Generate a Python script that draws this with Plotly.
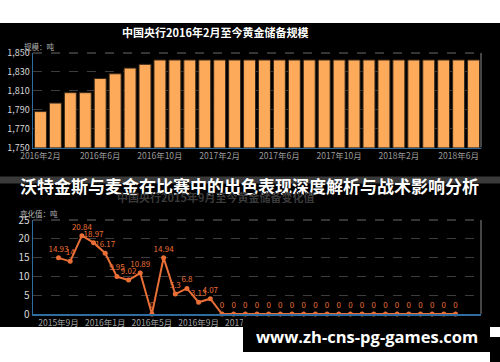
import plotly.graph_objects as go

# ---------------- data ----------------
reserve_months = [
    "2016年2月", "2016年3月", "2016年4月", "2016年5月", "2016年6月", "2016年7月",
    "2016年8月", "2016年9月", "2016年10月", "2016年11月", "2016年12月", "2017年1月",
    "2017年2月", "2017年3月", "2017年4月", "2017年5月", "2017年6月", "2017年7月",
    "2017年8月", "2017年9月", "2017年10月", "2017年11月", "2017年12月", "2018年1月",
    "2018年2月", "2018年3月", "2018年4月", "2018年5月", "2018年6月", "2018年7月",
]
reserve_tonnes = [
    1788, 1797, 1808, 1808, 1823, 1828, 1834, 1838,
    1842.6, 1842.6, 1842.6, 1842.6, 1842.6, 1842.6, 1842.6, 1842.6, 1842.6, 1842.6,
    1842.6, 1842.6, 1842.6, 1842.6, 1842.6, 1842.6, 1842.6, 1842.6, 1842.6, 1842.6,
    1842.6, 1842.6,
]
reserve_ticks = ["2016年2月", "2016年6月", "2016年10月", "2017年2月",
                 "2017年6月", "2017年10月", "2018年2月", "2018年6月"]
reserve_yticks = [1750, 1770, 1790, 1810, 1830, 1850]

change_months = [
    "2015年9月", "2015年10月", "2015年11月", "2015年12月", "2016年1月", "2016年2月",
    "2016年3月", "2016年4月", "2016年5月", "2016年6月", "2016年7月", "2016年8月",
    "2016年9月", "2016年10月", "2016年11月", "2016年12月", "2017年1月", "2017年2月",
    "2017年3月", "2017年4月", "2017年5月", "2017年6月", "2017年7月", "2017年8月",
    "2017年9月", "2017年10月", "2017年11月", "2017年12月", "2018年1月", "2018年2月",
    "2018年3月", "2018年4月", "2018年5月", "2018年6月", "2018年7月",
]
change_tonnes = [
    14.93, 14, 20.84, 18.97, 16.17, 9.95, 9.02, 10.89, 0, 14.94, 5.3, 6.8, 3.13, 4.07,
    0, 0, 0, 0, 0, 0, 0, 0, 0, 0, 0, 0, 0, 0, 0, 0, 0, 0, 0, 0, 0,
]
change_ticks = ["2015年9月", "2016年1月", "2016年5月", "2016年9月", "2017年1月",
                "2017年5月", "2017年9月", "2018年1月", "2018年5月"]
change_yticks = [0, 5, 10, 15, 20, 25]

title_top = "中国央行2016年2月至今黄金储备规模"
title_bottom = "中国央行2015年9月至今黄金储备变化值"
unit_top = "规模：吨"
unit_bottom = "变化值：吨"
headline = "沃特金斯与麦金在比赛中的出色表现深度解析与战术影响分析"
site = "www.zh-cns-pg-games.com"

# ---------------- layout helpers ----------------
W, H = 500, 362
def px(x):
    return x / W
def py(y):
    return 1 - y / H

CJK = "Noto Sans CJK SC"
AXIS_BLUE = "#2f6c9f"
GRID = "#3d3d3d"
ORANGE_LINE = "#ea6f36"
BAR = "#fdab5a"

fig = go.Figure()

fig.add_trace(go.Bar(
    x=reserve_months, y=reserve_tonnes,
    marker=dict(color=BAR, line=dict(color="#3a2a1a", width=1)),
    xaxis="x", yaxis="y", hoverinfo="skip",
))

fig.add_trace(go.Scatter(
    x=change_months, y=change_tonnes,
    mode="lines+markers+text",
    line=dict(color=ORANGE_LINE, width=2),
    marker=dict(color=ORANGE_LINE, size=5),
    text=[f"{v:g}" for v in change_tonnes],
    textposition="top center",
    textfont=dict(family=CJK, size=8, color=ORANGE_LINE),
    xaxis="x2", yaxis="y2", hoverinfo="skip", cliponaxis=False,
))

x_dom = [px(33), px(481)]

fig.update_layout(
    width=W, height=H,
    margin=dict(l=0, r=0, t=0, b=0, autoexpand=False),
    paper_bgcolor="white",
    plot_bgcolor="black",
    showlegend=False,
    bargap=0.2,
    font=dict(family=CJK),
    xaxis=dict(
        domain=x_dom, anchor="y", type="category", automargin=False,
        showgrid=False, showline=True, linecolor=AXIS_BLUE, linewidth=1.5,
        ticks="", tickmode="array", tickvals=reserve_ticks, ticktext=reserve_ticks,
        tickfont=dict(family=CJK, size=8.5, color="#9a9a9a"), tickangle=0,
        fixedrange=True,
    ),
    yaxis=dict(
        domain=[py(147.5), py(53)], anchor="x", automargin=False,
        range=[1750, 1850], tickvals=reserve_yticks, tickformat=",",
        showgrid=True, gridcolor=GRID, griddash="dash", gridwidth=1,
        showline=True, linecolor=AXIS_BLUE, linewidth=1.5, zeroline=False,
        ticks="", tickfont=dict(family=CJK, size=9, color="#d8d8d8"),
        fixedrange=True,
    ),
    xaxis2=dict(
        domain=x_dom, anchor="y2", type="category", automargin=False,
        showgrid=False, showline=True, linecolor=AXIS_BLUE, linewidth=1.5,
        ticks="", tickmode="array", tickvals=change_ticks, ticktext=change_ticks,
        tickfont=dict(family=CJK, size=8.5, color="#a0a0a0"), tickangle=0,
        fixedrange=True,
    ),
    yaxis2=dict(
        domain=[py(314), py(220)], anchor="x2", automargin=False,
        range=[0, 25], tickvals=change_yticks,
        showgrid=True, gridcolor=GRID, griddash="dash", gridwidth=1,
        showline=True, linecolor=AXIS_BLUE, linewidth=1.5, zeroline=False,
        ticks="", tickfont=dict(family=CJK, size=10, color="#d8d8d8"),
        fixedrange=True,
    ),
)

shapes = [
    dict(type="rect", xref="paper", yref="paper", x0=0, x1=1, y0=py(327), y1=py(23),
         fillcolor="black", line=dict(width=0), layer="below"),
    dict(type="rect", xref="paper", yref="paper", x0=0, x1=1, y0=py(183.5), y1=py(176.5),
         fillcolor="#3a3a3a", line=dict(width=0), layer="below"),
    dict(type="line", xref="paper", yref="paper", x0=px(33), x1=px(481), y0=py(53), y1=py(53),
         line=dict(color="#6a6a6a", width=1, dash="dash")),
    dict(type="line", xref="paper", yref="paper", x0=px(481), x1=px(481), y0=py(147.5), y1=py(53),
         line=dict(color="#8a8a8a", width=1)),
    dict(type="line", xref="paper", yref="paper", x0=px(33), x1=px(481), y0=py(220), y1=py(220),
         line=dict(color="#6a6a6a", width=1, dash="dash")),
    dict(type="line", xref="paper", yref="paper", x0=px(481), x1=px(481), y0=py(314), y1=py(220),
         line=dict(color="#8a8a8a", width=1)),
    dict(type="rect", xref="paper", yref="paper", x0=0, x1=1, y0=0, y1=py(327),
         fillcolor="white", line=dict(width=0), layer="above"),
    dict(type="rect", xref="paper", yref="paper", x0=px(490), x1=1, y0=0, y1=py(337),
         fillcolor="black", line=dict(width=0), layer="above"),
    dict(type="rect", xref="paper", yref="paper", x0=px(243), x1=px(490), y0=py(352), y1=py(318),
         fillcolor="black", line=dict(width=0), layer="above"),
]
fig.update_layout(shapes=shapes)

annotations = [
    dict(text=f"<b>{title_top}</b>", x=px(215), y=py(32), xref="paper", yref="paper",
         showarrow=False, xanchor="center", yanchor="middle",
         font=dict(family=CJK, size=11, color="white")),
    dict(text=unit_top, x=px(22), y=py(47), xref="paper", yref="paper",
         showarrow=False, xanchor="left", yanchor="middle",
         font=dict(family=CJK, size=7.5, color="#b0b0b0")),
    dict(text=f"<b>{headline}</b>", x=px(249), y=py(185), xref="paper", yref="paper",
         showarrow=False, xanchor="center", yanchor="middle",
         font=dict(family=CJK, size=17, color="white")),
    dict(text=f"<b>{title_bottom}</b>", x=px(215), y=py(197), xref="paper", yref="paper",
         showarrow=False, xanchor="center", yanchor="middle",
         font=dict(family=CJK, size=11, color="#3a3a3a")),
    dict(text=unit_bottom, x=px(18), y=py(213), xref="paper", yref="paper",
         showarrow=False, xanchor="left", yanchor="middle",
         font=dict(family=CJK, size=7.5, color="#b0b0b0")),
    dict(text=f"<b>{site}</b>", x=px(366.5), y=py(336), xref="paper", yref="paper",
         showarrow=False, xanchor="center", yanchor="middle",
         font=dict(family="Open Sans", size=16.5, color="white")),
]
fig.update_layout(annotations=annotations)

fig.write_html(
    "out.html",
    config={"displayModeBar": False, "staticPlot": True},
    post_script="document.body.style.margin='0';document.body.style.overflow='hidden';",
)
